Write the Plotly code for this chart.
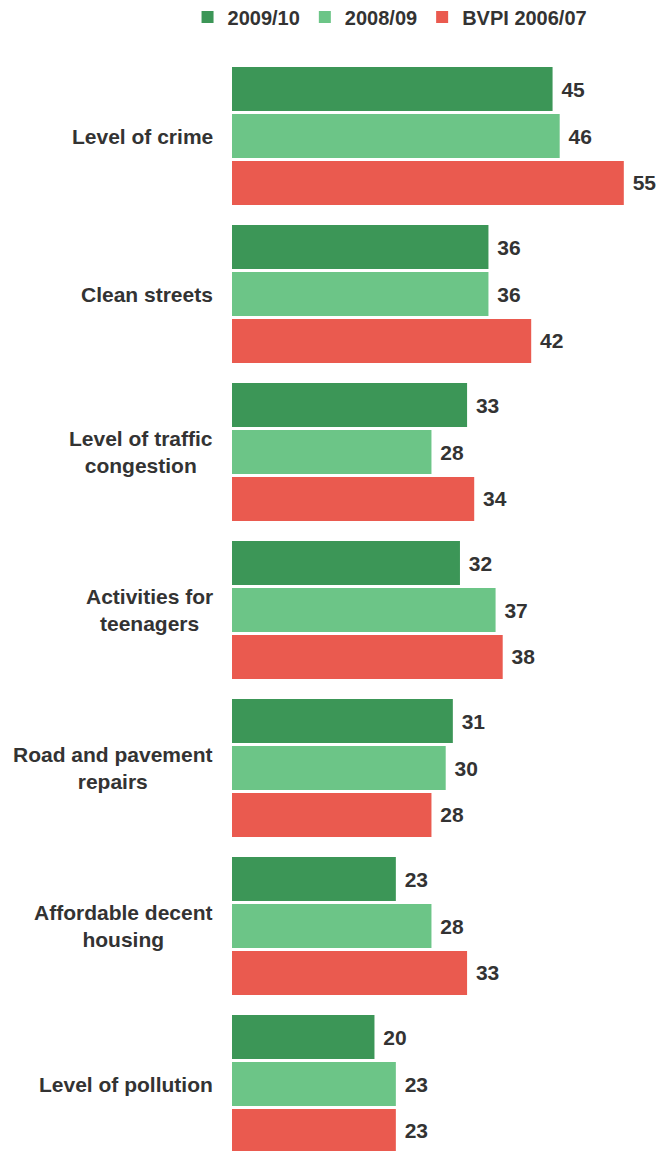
import plotly.graph_objects as go

categories = [
    "Level of crime",
    "Clean streets",
    "Level of traffic<br>congestion",
    "Activities for<br>teenagers",
    "Road and pavement<br>repairs",
    "Affordable decent<br>housing",
    "Level of pollution",
]
series_names = ["2009/10", "2008/09", "BVPI 2006/07"]
values_2009_10 = [45, 36, 33, 32, 31, 23, 20]
values_2008_09 = [46, 36, 28, 37, 30, 28, 23]
values_bvpi_2006_07 = [55, 42, 34, 38, 28, 33, 23]
colors = ["#3c9657", "#6cc587", "#ea5a4f"]

FONT = "Liberation Sans, Arial, sans-serif"
TXT = "#333333"
FS = 21

fig = go.Figure()
for name, vals, col in zip(series_names, [values_2009_10, values_2008_09, values_bvpi_2006_07], colors):
    fig.add_trace(go.Bar(
        y=categories, x=vals, name=name, orientation="h",
        marker=dict(color=col, line=dict(width=0)),
        text=vals, texttemplate="\u00a0%{x}", textposition="outside",
        textfont=dict(family=FONT, size=FS, color=TXT, weight="bold"),
        cliponaxis=False, constraintext="none",
    ))

for cat in categories:
    fig.add_annotation(
        x=0, xref="paper", y=cat, yref="y", xanchor="right", yanchor="middle",
        xshift=-17, text=cat, showarrow=False, align="center",
        font=dict(family=FONT, size=FS, color=TXT, weight="bold"),
    )

fig.update_layout(
    width=658, height=1151,
    margin=dict(l=232, r=0, t=57, b=0),
    paper_bgcolor="white", plot_bgcolor="white",
    barmode="group", bargap=0.108, bargroupgap=0.065,
    showlegend=True,
    legend=dict(
        orientation="h", x=0.371, xanchor="center",
        yref="container", y=0.9852, yanchor="middle",
        font=dict(family=FONT, size=20, color=TXT, weight="bold"),
        traceorder="normal",
    ),
    xaxis=dict(range=[0, 59.8], visible=False),
    yaxis=dict(
        type="category", categoryorder="array", categoryarray=categories,
        range=[6.424, -0.5], showticklabels=False, showgrid=False,
        zeroline=False, showline=False, ticks="",
    ),
)

fig.write_html("out.html")
